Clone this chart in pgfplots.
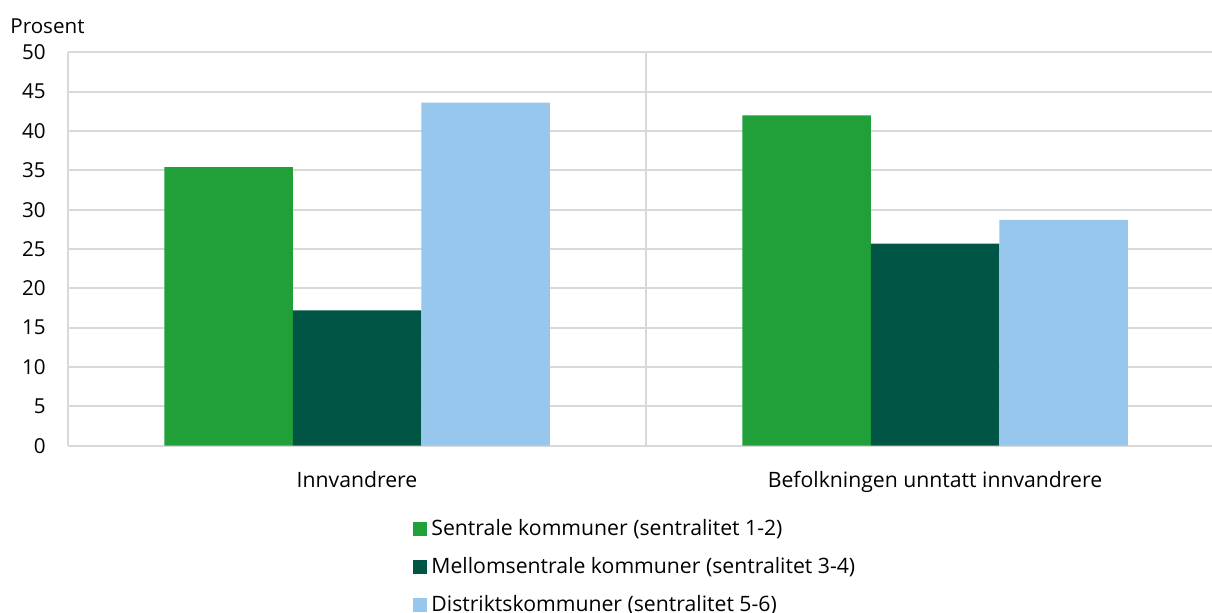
\documentclass[border=0pt]{standalone}
\usepackage{fontspec}
\setmainfont{Open Sans}
\usepackage{pgfplots}
\pgfplotsset{compat=1.18}

\definecolor{sentral}{HTML}{21A03A}
\definecolor{mellom}{HTML}{005545}
\definecolor{distrikt}{HTML}{97C7EC}
\definecolor{gridgray}{HTML}{D9D9D9}

\begin{document}
\begin{tikzpicture}
\fontsize{10.3}{12}\selectfont
\begin{axis}[
  scale only axis,
  width=572pt, height=196.7pt,
  ybar=0pt, bar width=64.25pt,
  xmin=-0.5, xmax=1.4792,
  ymin=0, ymax=50,
  ytick={0,5,...,50},
  xtick={0,1},
  xticklabels={Innvandrere, Befolkningen unntatt innvandrere},
  extra x ticks={-0.5,0.5},
  extra x tick labels={},
  extra x tick style={grid=major, major grid style={gridgray, line width=0.9pt}},
  ymajorgrids,
  major grid style={gridgray, line width=0.9pt},
  major tick length=0pt,
  axis line style={draw=none},
  tick style={draw=none},
  /pgf/number format/assume math mode=true,
  ticklabel style={font=\fontsize{10.3}{12}\selectfont},
  xticklabel style={yshift=-9pt, font=\fontsize{10.6}{12}\selectfont},
  yticklabel style={inner sep=0pt, xshift=-11pt},
  legend style={at={(axis description cs:0.3016,-0.176)}, anchor=north west,
    draw=none, fill=none, font=\fontsize{10.6}{12}\selectfont,
    row sep=5.3pt, inner sep=0pt},
  legend cell align=left,
  legend image code/.code={\fill[#1] (0pt,-3.5pt) rectangle (7pt,3.5pt);},
]
\addplot[fill=sentral, draw=none] coordinates {(0,35.4) (1,42.0)};
\addlegendentry{Sentrale kommuner (sentralitet 1-2)}
\addplot[fill=mellom, draw=none] coordinates {(0,17.2) (1,25.7)};
\addlegendentry{Mellomsentrale kommuner (sentralitet 3-4)}
\addplot[fill=distrikt, draw=none] coordinates {(0,43.6) (1,28.7)};
\addlegendentry{Distriktskommuner (sentralitet 5-6)}
\coordinate (ll) at (rel axis cs:0,0);
\coordinate (tl) at (rel axis cs:0,1);
\end{axis}
\node[anchor=base west, inner sep=0pt] at ([shift={(-29pt,9.5pt)}]tl) {Prosent};
\pgfresetboundingbox
\path ([shift={(-34pt,-83.15pt)}]ll) rectangle ([shift={(572pt,222.85pt)}]ll);
\end{tikzpicture}
\end{document}
